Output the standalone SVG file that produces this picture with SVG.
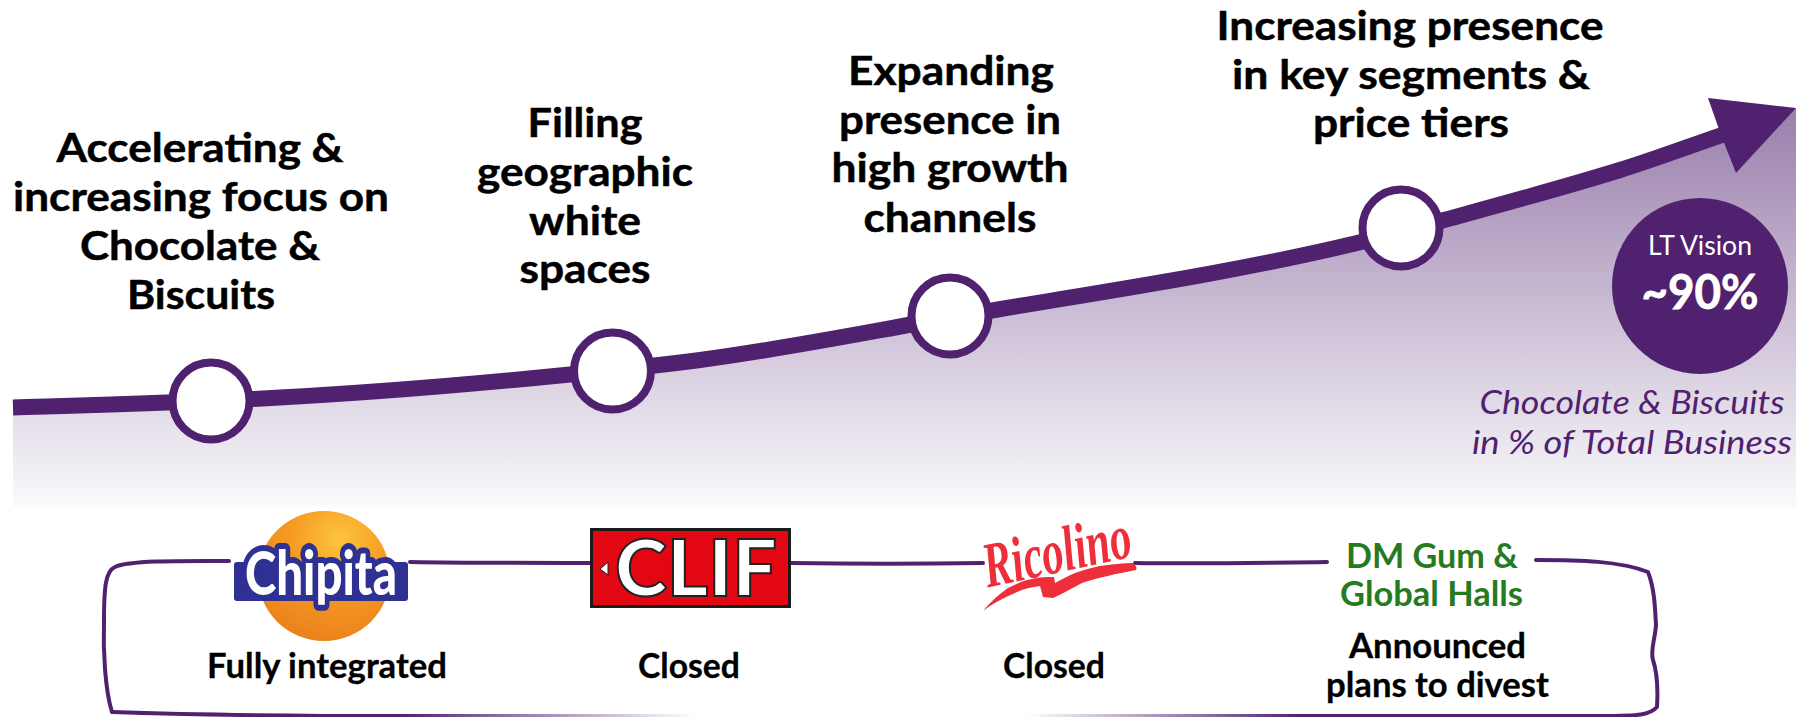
<svg xmlns="http://www.w3.org/2000/svg" width="1796" height="717" viewBox="0 0 1796 717">
<style>
text{font-family:Lato,"Liberation Sans",sans-serif;text-anchor:middle}
.h{font-size:41px;font-weight:700;fill:#000;stroke:#000;stroke-width:.5}
.s{font-size:34px;font-weight:700;fill:#000;stroke:#000;stroke-width:.3}
.g{font-size:34px;font-weight:700;fill:#267a1f}
.i{font-size:33px;font-style:italic;fill:#50216f}
.dot{fill:#fff;stroke:#50216f;stroke-width:8}
.frame{fill:none;stroke:#50216f;stroke-width:4;stroke-linecap:round;stroke-linejoin:round}
</style>
<defs>
<linearGradient id="area" gradientUnits="userSpaceOnUse" x1="0" y1="108" x2="0" y2="507"><stop offset="0" stop-color="#9a7fac"/><stop offset="0.93" stop-color="#f3f1f6"/><stop offset="1" stop-color="#fbfbfc"/></linearGradient>
<radialGradient id="ball" cx="0.62" cy="0.22" r="0.85"><stop offset="0" stop-color="#fdc53c"/><stop offset="0.45" stop-color="#f59a23"/><stop offset="1" stop-color="#ea7f1c"/></radialGradient>
<linearGradient id="fadeL" gradientUnits="userSpaceOnUse" x1="400" y1="0" x2="695" y2="0"><stop offset="0" stop-color="#50216f"/><stop offset="1" stop-color="#50216f" stop-opacity="0"/></linearGradient>
<linearGradient id="fadeR" gradientUnits="userSpaceOnUse" x1="1026" y1="0" x2="1300" y2="0"><stop offset="0" stop-color="#50216f" stop-opacity="0"/><stop offset="1" stop-color="#50216f"/></linearGradient>
</defs>
<path id="area-fill" fill="url(#area)" d="M13 407.5C93 405.1 173 403 253 399C358.7 393.7 464.3 385.1 570 374.5C613.3 370.2 656.7 365.6 700 360C782.7 349.2 865.3 332.5 948 318C1084 294.2 1221 275.6 1357 243C1386 236 1415 228 1444 220C1502.7 203.9 1561.3 188.2 1620 170C1654 159.5 1688 146.6 1722 135L1796 108V507H13Z"/>
<g id="connectors">
<path fill="none" stroke="#50216f" stroke-width="16" d="M13 407.5C93 405.1 173 403 253 399C358.7 393.7 464.3 385.1 570 374.5C613.3 370.2 656.7 365.6 700 360C782.7 349.2 865.3 332.5 948 318C1084 294.2 1221 275.6 1357 243C1386 236 1415 228 1444 220C1502.7 203.9 1561.3 188.2 1620 170C1654 159.5 1688 146.6 1722 135"/>
<path fill="#50216f" d="M1708 98L1796 108L1736 173L1721 135Z"/>
<g id="frame">
<path class="frame" d="M229 561C190 561 130 560 115 567C106 571 104 585 104 620C103 650 105 690 112 712"/>
<path class="frame" d="M112 712C200 715 300 716 400 716" />
<path d="M400 716H695" fill="none" stroke="url(#fadeL)" stroke-width="4"/>
<path class="frame" d="M410 562C470 563 530 563 590 563"/>
<path class="frame" d="M791 563C855 564 920 564 983 563"/>
<path class="frame" d="M1135 563C1200 564 1260 563 1327 562"/>
<path class="frame" d="M1536 560C1580 560 1620 561 1648 572C1655 590 1655 610 1656 625C1655 640 1650 650 1653 660C1658 675 1658 690 1657 707C1650 715 1640 716 1600 716L1300 716"/>
<path d="M1026 716H1300" fill="none" stroke="url(#fadeR)" stroke-width="4"/>
</g>
</g>
<g id="node-1"><circle class="dot" cx="211" cy="401" r="38.5"/>
<text class="h" x="200" y="162" textLength="287" lengthAdjust="spacingAndGlyphs">Accelerating &amp;</text>
<text class="h" x="201" y="211" textLength="376" lengthAdjust="spacingAndGlyphs">increasing focus on</text>
<text class="h" x="200" y="260" textLength="240" lengthAdjust="spacingAndGlyphs">Chocolate &amp;</text>
<text class="h" x="201" y="309" textLength="148" lengthAdjust="spacingAndGlyphs">Biscuits</text></g>
<g id="node-2"><circle class="dot" cx="612.5" cy="371" r="38.5"/>
<text class="h" x="585" y="137" textLength="115" lengthAdjust="spacingAndGlyphs">Filling</text>
<text class="h" x="585" y="186" textLength="216" lengthAdjust="spacingAndGlyphs">geographic</text>
<text class="h" x="585" y="235" textLength="112" lengthAdjust="spacingAndGlyphs">white</text>
<text class="h" x="585" y="283" textLength="131" lengthAdjust="spacingAndGlyphs">spaces</text></g>
<g id="node-3"><circle class="dot" cx="950" cy="316" r="38.5"/>
<text class="h" x="951" y="85" textLength="206" lengthAdjust="spacingAndGlyphs">Expanding</text>
<text class="h" x="950" y="134" textLength="222" lengthAdjust="spacingAndGlyphs">presence in</text>
<text class="h" x="950" y="182" textLength="237" lengthAdjust="spacingAndGlyphs">high growth</text>
<text class="h" x="950" y="232" textLength="173" lengthAdjust="spacingAndGlyphs">channels</text></g>
<g id="node-4"><circle class="dot" cx="1401" cy="228" r="38.5"/>
<text class="h" x="1410" y="40" textLength="387" lengthAdjust="spacingAndGlyphs">Increasing presence</text>
<text class="h" x="1411" y="89" textLength="358" lengthAdjust="spacingAndGlyphs">in key segments &amp;</text>
<text class="h" x="1411" y="137" textLength="196" lengthAdjust="spacingAndGlyphs">price tiers</text></g>
<g id="vision"><circle cx="1700" cy="286" r="88" fill="#50216f"/>
<text x="1700" y="255" font-size="26" fill="#fff" textLength="104" lengthAdjust="spacingAndGlyphs">LT Vision</text>
<text x="1700" y="309" font-size="48" font-weight="700" fill="#fff" stroke="#fff" stroke-width=".8" textLength="117" lengthAdjust="spacingAndGlyphs">~90%</text>
<text class="i" x="1632" y="414" textLength="305" lengthAdjust="spacingAndGlyphs">Chocolate &amp; Biscuits</text>
<text class="i" x="1632" y="454" textLength="320" lengthAdjust="spacingAndGlyphs">in % of Total Business</text></g>
<g id="chipita"><ellipse cx="324" cy="576" rx="66" ry="65" fill="url(#ball)"/>
<rect x="234" y="562" width="174" height="39" rx="3" fill="#2e3192"/>
<text x="321" y="595" font-size="60" font-weight="900" fill="#fff" stroke="#2e3192" stroke-width="12" stroke-linejoin="round" paint-order="stroke" textLength="152" lengthAdjust="spacingAndGlyphs">Chipita</text>
<text x="327" y="678" class="s" textLength="240" lengthAdjust="spacingAndGlyphs">Fully integrated</text></g>
<g id="clif"><rect x="591.5" y="529.5" width="198" height="77" fill="#e30613" stroke="#1a1a1a" stroke-width="3"/>
<path d="M600 569L608 562V575Z" fill="#fff" stroke="#1a1a1a" stroke-width="1"/>
<text x="696" y="596" font-size="78" font-weight="900" fill="#fff" stroke="#222" stroke-width="2" textLength="162" lengthAdjust="spacingAndGlyphs">CLIF</text>
<text x="689" y="678" class="s" textLength="102" lengthAdjust="spacingAndGlyphs">Closed</text></g>
<g id="ricolino">
<text x="1061" y="572" transform="rotate(-12 1061 572)" font-size="64" font-weight="700" font-style="italic" fill="#ee2e3a" style="font-family:'Liberation Serif',serif" textLength="150" lengthAdjust="spacingAndGlyphs">Ricolino</text>
<path fill="#ee2e3a" d="M983.3 610.7C992 600 1000 594 1008 588C1018 583 1025 580 1032 579C1040 577 1048 577 1054 577L1055 583C1062 579 1068 576 1075 573C1086 569 1097 566 1108 565C1116 564 1124 563 1132 563Q1138 566 1136 570C1128 572 1118 573 1108 576C1098 578 1090 580 1082 583C1072 588 1062 594 1053 598L1043 597L1040 586C1031 587 1023 589 1015 593C1003 598 992 604 983.3 610.7Z"/>
<text x="1054" y="678" class="s" textLength="102" lengthAdjust="spacingAndGlyphs">Closed</text></g>
<g id="divest">
<text class="g" x="1432" y="568" textLength="172" lengthAdjust="spacingAndGlyphs">DM Gum &amp;</text>
<text class="g" x="1431.5" y="606" textLength="183" lengthAdjust="spacingAndGlyphs">Global Halls</text>
<text class="s" x="1437.5" y="658" textLength="177" lengthAdjust="spacingAndGlyphs">Announced</text>
<text class="s" x="1437.5" y="697" textLength="223" lengthAdjust="spacingAndGlyphs">plans to divest</text></g>
</svg>
